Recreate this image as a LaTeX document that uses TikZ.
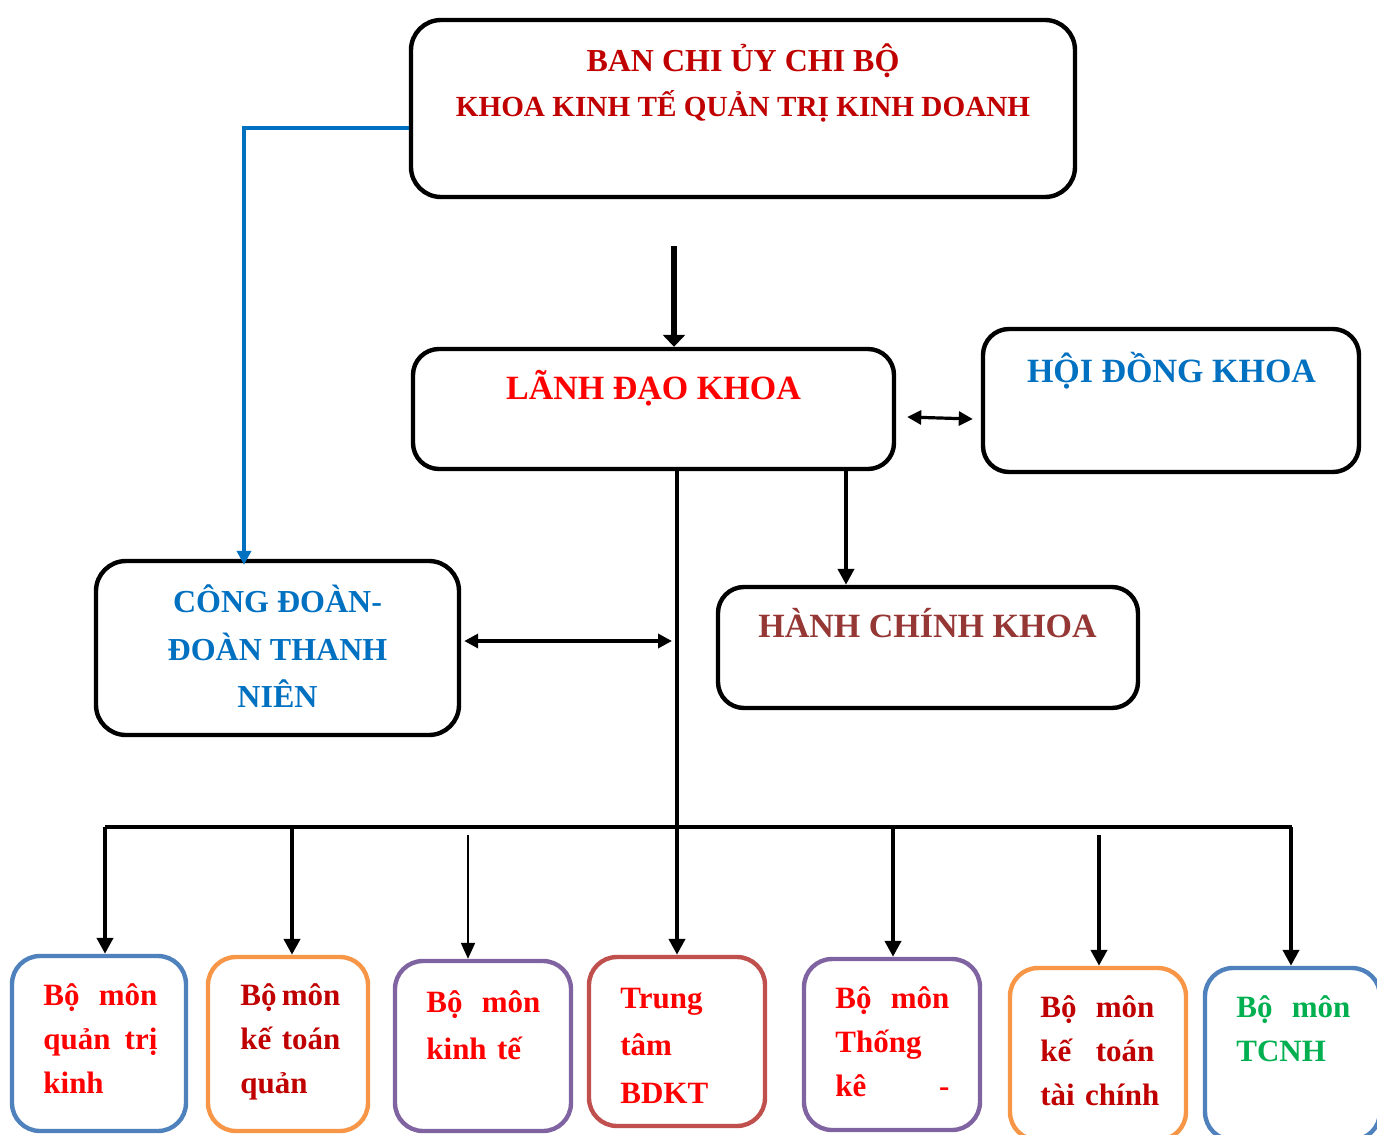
\documentclass[tikz,border=0pt]{standalone}
\usepackage{fontspec}
\setmainfont{Liberation Serif}
\usetikzlibrary{arrows.meta,calc}
\definecolor{titlered}{HTML}{C00000}
\definecolor{headblue}{HTML}{0070C0}
\definecolor{adminbrown}{HTML}{953735}
\definecolor{unitgreen}{HTML}{00B050}
\definecolor{lineblue}{HTML}{4F81BD}
\definecolor{lineorange}{HTML}{F79646}
\definecolor{linepurple}{HTML}{8064A2}
\definecolor{linered}{HTML}{C0504D}
\tikzset{
  box/.style={draw=black, line width=2.2pt, rounded corners=14pt, inner sep=0pt},
  unitbox/.style={draw=#1, line width=2.2pt, rounded corners=14pt, inner sep=0pt},
  title/.style={font=\bfseries\fontsize{15}{18}\selectfont, anchor=base, inner sep=0pt},
  bigtitle/.style={font=\bfseries\fontsize{17}{20}\selectfont, anchor=base, inner sep=0pt},
  unittext/.style={font=\bfseries\fontsize{15.5}{22}\selectfont, anchor=base west,
    text width=57pt, align=left, inner sep=0pt},
  arr/.style={line width=2pt, -{Triangle[length=8pt,width=8pt]}},
  thinarr/.style={line width=1pt, -{Triangle[length=8pt,width=7pt]}},
  bigarr/.style={line width=3pt, -{Triangle[length=6pt,width=11pt]}},
  bluearr/.style={draw=headblue, line width=2pt, -{Triangle[length=7pt,width=7pt]}},
  dblarr/.style={line width=1.6pt, {Triangle[length=7pt,width=7pt]}-{Triangle[length=7pt,width=7pt]}},
  bus/.style={line width=2pt}
}
\begin{document}
\begin{tikzpicture}[x=0.5pt,y=-0.5pt]
\useasboundingbox (0,0) rectangle (1377,1135);

\node[box, rounded corners=15pt, minimum width=332pt, minimum height=88.5pt] (ban) at (743,108.5) {};
\node[box, rounded corners=13pt, minimum width=240.5pt, minimum height=60pt] (lanhdao) at (653.5,409) {};
\node[box, rounded corners=13pt, minimum width=188pt, minimum height=71.5pt] (hoidong) at (1171,400.5) {};
\node[box, rounded corners=13pt, minimum width=210pt, minimum height=60.5pt] (hanhchinh) at (928,647.5) {};
\node[box, rounded corners=15pt, minimum width=181.5pt, minimum height=87pt] (congdoan) at (277.5,648) {};

\node[unitbox=lineblue, minimum width=87pt, minimum height=87.5pt] (b1) at (99,1043.5) {};
\node[unitbox=lineorange, minimum width=80pt, minimum height=87pt] (b2) at (288,1044) {};
\node[unitbox=linepurple, minimum width=88pt, minimum height=85pt] (b3) at (483,1046) {};
\node[unitbox=linered, minimum width=88pt, minimum height=84.5pt] (b4) at (677,1041.5) {};
\node[unitbox=linepurple, minimum width=88pt, minimum height=85.5pt] (b5) at (892,1044.5) {};
\node[unitbox=lineorange, minimum width=88pt, minimum height=86pt] (b6) at (1098,1054) {};
\node[unitbox=lineblue, minimum width=87.5pt, minimum height=86pt] (b7) at (1292.5,1054) {};

\node[title, font=\bfseries\fontsize{16}{19}\selectfont, text=titlered] (ban1) at (743,71) {BAN CHI ỦY CHI BỘ};
\node[title, font=\bfseries\fontsize{14.6}{18}\selectfont, text=titlered] (ban2) at (743,116) {KHOA KINH TẾ QUẢN TRỊ KINH DOANH};
\node[bigtitle, text=red] (lanhdaotext) at (653.5,399) {LÃNH ĐẠO KHOA};
\node[bigtitle, text=headblue] (hoidongtext) at (1171.5,382) {HỘI ĐỒNG KHOA};
\node[bigtitle, text=adminbrown] (hanhchinhtext) at (927.5,637) {HÀNH CHÍNH KHOA};
\node[title, font=\bfseries\fontsize{16}{19}\selectfont, text=headblue] (cd1) at (277.5,612) {CÔNG ĐOÀN-};
\node[title, font=\bfseries\fontsize{16}{19}\selectfont, text=headblue] (cd2) at (277.5,660) {ĐOÀN THANH};
\node[title, font=\bfseries\fontsize{16}{19}\selectfont, text=headblue] (cd3) at (277.5,707) {NIÊN};

\node[unittext, text=red] (t1) at (43,1005) {Bộ\hfill môn\\quản\hfill trị\\kinh};
\node[unittext, text width=50pt, text=titlered] (t2) at (240,1005) {Bộ\hfill môn\\kế\hfill toán\\quản};
\node[unittext, font=\bfseries\fontsize{15.5}{23.5}\selectfont, text=red] (t3) at (426,1012) {Bộ\hfill môn\\kinh tế};
\node[unittext, font=\bfseries\fontsize{15.5}{23.75}\selectfont, text=red] (t4) at (620,1008) {Trung\\tâm\\BDKT};
\node[unittext, text=red] (t5) at (835,1008) {Bộ\hfill môn\\Thống\\kê\hfill -};
\node[unittext, text=titlered] (t6) at (1040,1017) {Bộ\hfill môn\\kế\hfill toán\\\mbox{tài chính}};
\node[unittext, text=unitgreen] (t7) at (1236,1017) {Bộ\hfill môn\\TCNH};

\coordinate (t) at (674,246);
\draw[bigarr] (t) -- (t |- lanhdao.north);

\coordinate (bl) at (244,128);
\draw[bluearr] (ban.west |- bl) -- (bl) -- ($(bl |- congdoan.north)+(0,6)$);

\draw[dblarr] ($(lanhdao.east)+(11,8)$) -- ($(hoidong.west)+(-8,18.5)$);
\draw[arr] (lanhdao.south -| b4.north) -- (b4.north);
\draw[arr] ($(lanhdao.south)+(192.5,0)$) -- ($(hanhchinh.north)+(-82,0)$);
\draw[dblarr, line width=2pt] ($(congdoan.east)+(3,-7)$) -- ($(congdoan.east -| b4.north)+(-5,-7)$);

\coordinate (busL) at (105,827);
\coordinate (busR) at (1292,827);
\draw[bus] (busL) -- (busR);
\foreach \b/\x in {b1/105,b2/292,b5/893,b7/1291}
  \draw[arr] (\x,827) -- (\x,0 |- \b.north);
\draw[thinarr] (468,835) -- (468,0 |- b3.north);
\draw[arr] (1099,835) -- (1099,0 |- b6.north);
\end{tikzpicture}
\end{document}
